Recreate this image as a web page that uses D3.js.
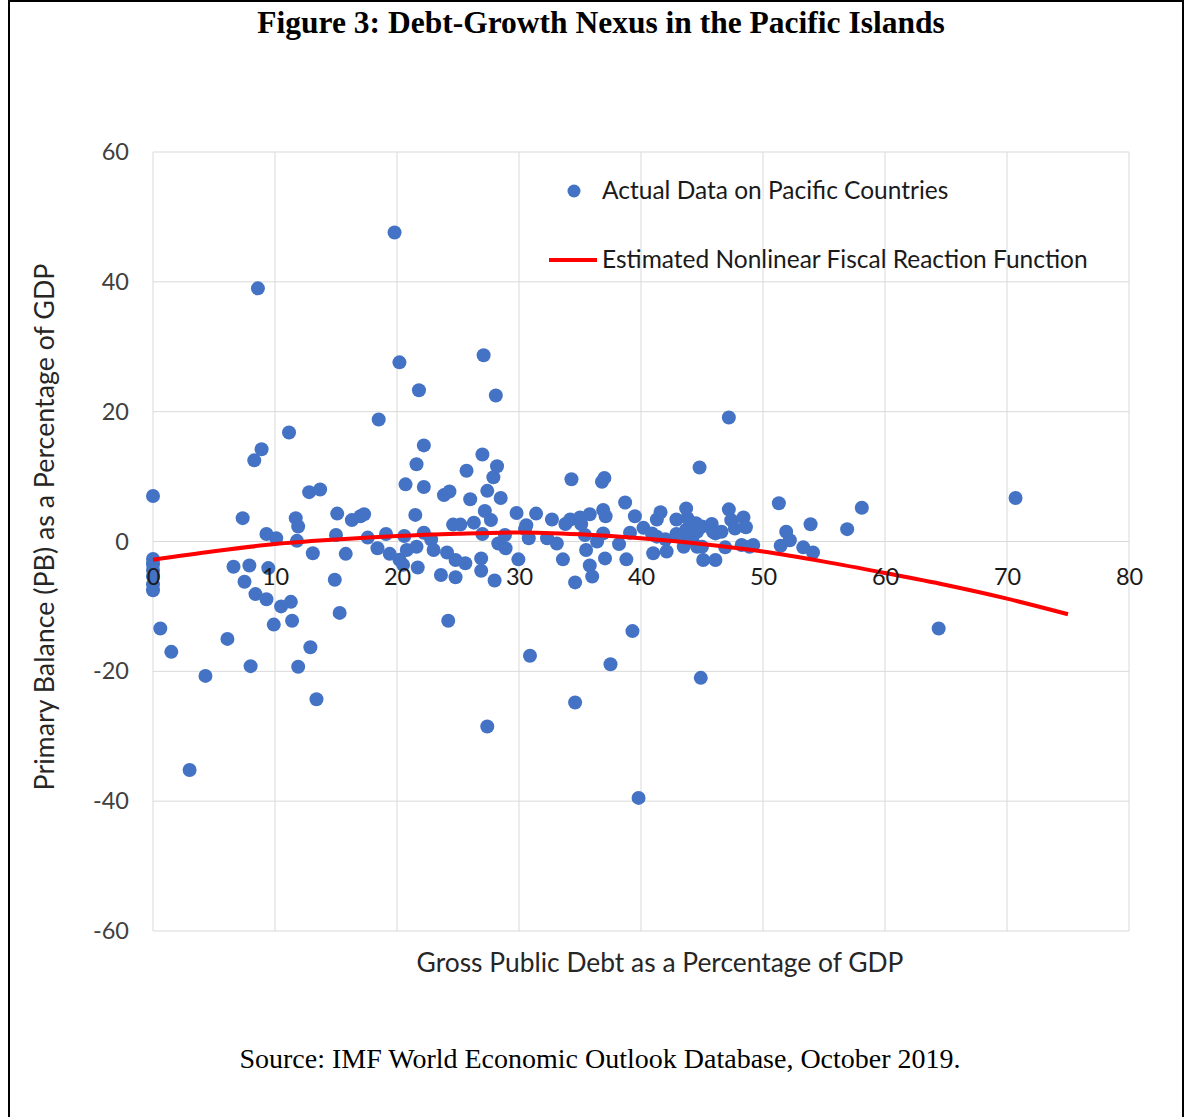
<!DOCTYPE html>
<html>
<head>
<meta charset="utf-8">
<script src="https://cdn.jsdelivr.net/npm/d3@7"></script>
<style>
  body { margin: 0; background: #fff; }
  svg { display: block; }
</style>
</head>
<body>
<div id="chart"></div>
<script>
console.log("chart page loaded")

//Data: gross debt (x) and primary balance (y), % of GDP
var debt = [0, 0, 0, 0, 0, 0, 0,
    0.6, 1.5, 3.0, 4.3, 6.1, 6.6, 7.35, 7.5, 7.9, 8.0, 8.3, 8.4, 8.6, 8.9, 9.3, 9.3, 9.45, 9.9,
    10.1, 10.5, 11.15, 11.3, 11.4, 11.7, 11.8, 11.9, 11.9, 12.8, 12.9, 13.1, 13.4, 13.7, 14.9,
    15.0, 15.1, 15.3, 15.8, 16.3, 17.0, 17.3, 17.6, 18.4, 18.5, 19.1, 19.4, 19.8,
    20.2, 20.2, 20.6, 20.7, 20.8, 20.5, 21.5, 21.6, 21.6, 21.7, 21.8, 22.2, 22.2, 22.2, 22.8,
    23.0, 23.6, 23.85, 24.1, 24.2, 24.3, 24.6, 24.8, 24.8, 25.2, 25.6, 25.7, 26.0, 26.3,
    26.9, 26.9, 27.0, 27.0, 27.1, 27.2, 27.4, 27.4, 27.7, 27.9, 28.0, 28.1, 28.2, 28.3,
    28.5, 28.85, 28.9, 29.8, 29.95,
    30.5, 30.6, 30.8, 30.9, 31.4, 32.3, 32.7, 33.1, 33.6, 33.8, 34.2, 34.3, 34.6, 34.6,
    35.0, 35.1, 35.4, 35.5, 35.8, 35.8, 36.0, 36.4, 36.8, 36.9, 36.9, 37.0, 37.05, 37.1,
    37.5, 38.2, 38.7, 38.8, 39.1, 39.3, 39.5, 39.8,
    40.2, 40.9, 41.0, 41.3, 41.3, 41.6, 42.0, 42.1, 42.9, 42.9, 43.2, 43.5, 43.7, 43.7,
    43.8, 44.2, 44.5, 44.6, 44.6, 44.8, 44.9, 45.0, 45.0, 45.1, 45.8, 45.9, 46.1, 46.1,
    46.6, 46.9, 47.2, 47.2, 47.4, 47.7, 48.25, 48.4, 48.6, 48.9, 49.2,
    51.3, 51.45, 51.9, 52.2, 53.3, 53.9, 54.1, 56.9, 58.1, 64.4, 70.7];

var primaryBalance = [7.0, -2.7, -3.5, -4.4, -5.4, -6.6, -7.5,
    -13.4, -17.0, -35.2, -20.7, -15.0, -3.9, 3.6, -6.2, -3.7, -19.2, 12.5, -8.1, 39.0, 14.2, 1.15, -8.9, -4.1, -12.8,
    0.5, -10.0, 16.8, -9.3, -12.2, 3.6, 0.1, 2.3, -19.3, 7.6, -16.3, -1.8, -24.3, 8.0, -5.9,
    1.0, 4.3, -11.0, -1.9, 3.3, 3.9, 4.2, 0.6, -1.05, 18.8, 1.15, -1.9, 47.6,
    27.6, -2.8, 0.85, 8.8, -1.3, -3.6, 4.1, 11.9, -0.8, -4.0, 23.3, 14.8, 8.4, 1.35, 0.3,
    -1.3, -5.15, 7.15, -1.7, -12.2, 7.7, 2.6, -2.85, -5.5, 2.6, -3.35, 10.9, 6.5, 2.9,
    -2.6, -4.5, 13.4, 1.15, 28.7, 4.7, 7.8, -28.5, 3.3, 9.9, -6.0, 22.5, 11.6, -0.3,
    6.7, 1.0, -1.05, 4.4, -2.75,
    1.9, 2.5, 0.5, -17.6, 4.3, 0.5, 3.4, -0.3, -2.75, 2.7, 3.4, 9.6, -6.3, -24.8,
    3.7, 2.7, 1.0, -1.3, 4.2, -3.7, -5.4, 0, 9.2, 4.85, 1.25, 9.8, -2.6, 3.9,
    -18.9, -0.4, 6.0, -2.75, 1.35, -13.8, 3.9, -39.5,
    2.1, 1.25, -1.8, 0.75, 3.4, 4.5, 0.35, -1.55, 3.4, 1.15, 0.75, -0.8, 5.1, 1.8,
    3.6, 0.2, 2.8, 1.5, -0.8, 11.4, -21.0, 2.3, -0.8, -2.85, 2.7, 1.5, -2.85, 1.25,
    1.5, -0.9, 19.1, 4.95, 3.3, 2.0, -0.55, 3.7, 2.2, -0.8, -0.55,
    5.9, -0.65, 1.5, 0.2, -0.9, 2.65, -1.7, 1.9, 5.2, -13.4, 6.7];

//Red curve, values
var fitDebt = [0, 5, 10, 15, 20, 25, 30, 35, 40, 45, 50, 55, 60, 65, 70, 75];
var fitBalance = [-2.8, -1.5, -0.4, 0.3, 0.85, 1.2, 1.4, 1.1, 0.5, -0.4, -1.55, -3.1, -4.85, -6.7, -8.8, -11.2];

var xTicks = [0, 10, 20, 30, 40, 50, 60, 70, 80];
var yTicks = [-60, -40, -20, 0, 20, 40, 60];

var legendLabels = ["Actual Data on Pacific Countries", "Estimated Nonlinear Fiscal Reaction Function"];

var width = 1187, height = 1117;
var plot = {left: 153, right: 1129, top: 152, bottom: 931};
var dotColor = "#4472C4";
var lineColor = "#FF0000";
var sansFont = "Lato, 'Open Sans', sans-serif";
var serifFont = "'Liberation Serif', 'Times New Roman', serif";

function DrawChart() {
    console.log("DrawChart()");

    var svg = d3.select("#chart").append("svg")
        .attr("width", width)
        .attr("height", height);

    //page frame
    svg.append("rect")
        .attr("x", 9).attr("y", 1)
        .attr("width", 1174).attr("height", height + 10)
        .attr("fill", "none")
        .attr("stroke", "#000")
        .attr("stroke-width", 2);

    svg.append("text")
        .attr("x", 601).attr("y", 33)
        .attr("text-anchor", "middle")
        .style("font-family", serifFont)
        .style("font-weight", "bold")
        .style("font-size", "31.5px")
        .text("Figure 3: Debt-Growth Nexus in the Pacific Islands");

    var x = d3.scaleLinear().domain([0, 80]).range([plot.left, plot.right]);
    var y = d3.scaleLinear().domain([-60, 60]).range([plot.bottom, plot.top]);

    //gridlines
    svg.append("g").selectAll("line").data(xTicks).join("line")
        .attr("x1", d => x(d)).attr("x2", d => x(d))
        .attr("y1", plot.top).attr("y2", plot.bottom)
        .attr("stroke", "#d9d9d9").attr("stroke-width", 1);
    svg.append("g").selectAll("line").data(yTicks).join("line")
        .attr("x1", plot.left).attr("x2", plot.right)
        .attr("y1", d => y(d)).attr("y2", d => y(d))
        .attr("stroke", "#d9d9d9").attr("stroke-width", 1);

    //y axis labels (plain hyphen like the original)
    var yAxis = svg.append("g")
        .attr("transform", `translate(${plot.left},0)`)
        .call(d3.axisLeft(y).tickValues(yTicks).tickFormat(d => String(d)).tickSize(0).tickPadding(24));
    yAxis.select(".domain").remove();
    yAxis.selectAll("text")
        .style("font-family", sansFont)
        .style("font-size", "23.5px")
        .attr("fill", "#404040");

    //dots
    var points = debt.map((d, i) => ({x: d, y: primaryBalance[i]}));
    svg.append("g").selectAll("circle").data(points).join("circle")
        .attr("cx", d => x(d.x))
        .attr("cy", d => y(d.y))
        .attr("r", 7)
        .attr("fill", dotColor);

    //fitted curve
    var fit = fitDebt.map((d, i) => ({x: d, y: fitBalance[i]}));
    var line = d3.line()
        .x(d => x(d.x))
        .y(d => y(d.y))
        .curve(d3.curveMonotoneX);
    svg.append("path")
        .datum(fit)
        .attr("d", line)
        .attr("fill", "none")
        .attr("stroke", lineColor)
        .attr("stroke-width", 4);

    //x axis labels sit on the zero line
    var xAxis = svg.append("g")
        .attr("transform", `translate(0,${y(0)})`)
        .call(d3.axisBottom(x).tickValues(xTicks).tickSize(0).tickPadding(27));
    xAxis.select(".domain").remove();
    xAxis.selectAll("text")
        .style("font-family", sansFont)
        .style("font-size", "23.5px")
        .attr("fill", "#1a1a1a");

    //axis titles
    svg.append("text")
        .attr("x", 660).attr("y", 972)
        .attr("text-anchor", "middle")
        .style("font-family", sansFont)
        .style("font-size", "26.4px")
        .attr("fill", "#262626")
        .text("Gross Public Debt as a Percentage of GDP");

    svg.append("text")
        .attr("transform", "translate(54,527) rotate(-90)")
        .attr("text-anchor", "middle")
        .style("font-family", sansFont)
        .style("font-size", "26.8px")
        .attr("fill", "#262626")
        .text("Primary Balance (PB) as a Percentage of GDP");

    //legend
    var legend = svg.append("g");
    legend.append("circle")
        .attr("cx", 574).attr("cy", 191).attr("r", 6.5)
        .attr("fill", dotColor);
    legend.append("line")
        .attr("x1", 549).attr("x2", 597)
        .attr("y1", 260).attr("y2", 260)
        .attr("stroke", lineColor).attr("stroke-width", 4);
    legend.selectAll("text").data(legendLabels).join("text")
        .attr("x", 602)
        .attr("y", (d, i) => 199 + i * 69)
        .style("font-family", sansFont)
        .style("font-size", "24.5px")
        .attr("fill", "#1a1a1a")
        .text(d => d);

    //source note
    svg.append("text")
        .attr("x", 600).attr("y", 1068)
        .attr("text-anchor", "middle")
        .style("font-family", serifFont)
        .style("font-size", "28px")
        .text("Source: IMF World Economic Outlook Database, October 2019.");
}

DrawChart();
</script>
</body>
</html>
